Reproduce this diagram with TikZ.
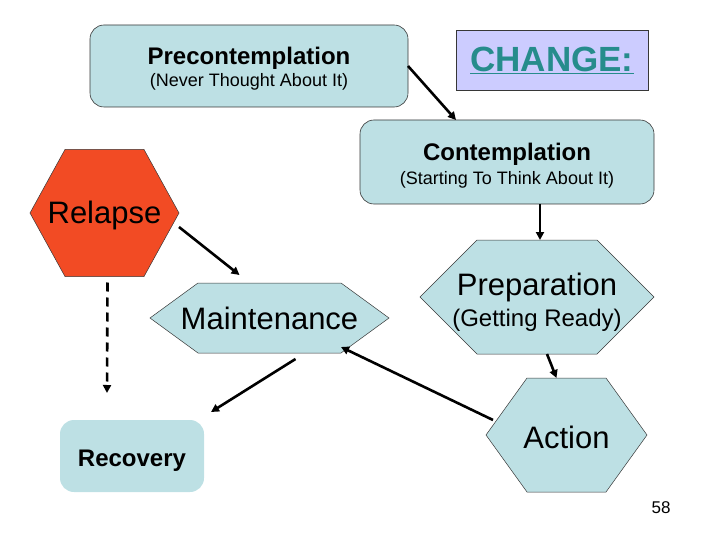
\documentclass[tikz,border=0pt]{standalone}
\usepackage{fontspec}
\setmainfont{Liberation Sans}
\usetikzlibrary{arrows.meta,backgrounds}

\definecolor{stagefill}{RGB}{189,224,228}
\definecolor{relapsefill}{RGB}{242,75,36}
\definecolor{changefill}{RGB}{204,204,255}
\definecolor{changetext}{RGB}{38,140,140}
\definecolor{edgegray}{RGB}{55,55,55}

% hexagon around a (rectangular) node, #2 = depth of the side points
\newcommand{\hexpath}[2]{(#1.west) -- ([xshift=#2]#1.north west) -- ([xshift=-#2]#1.north east) -- (#1.east) -- ([xshift=-#2]#1.south east) -- ([xshift=#2]#1.south west) -- cycle}
\newcommand{\setfs}[2]{\fontsize{#1}{#2}\selectfont}

\begin{document}
\begin{tikzpicture}[x=1pt,y=-1pt,>={Triangle[length=8pt,width=8pt]},
  stagebox/.style={rectangle,rounded corners=14pt,fill=stagefill,draw=edgegray,line width=0.6pt,align=center,inner sep=0,outer sep=0},
  hexbox/.style={rectangle,inner sep=0,outer sep=0,align=center},
  hexline/.style={fill=stagefill,draw=edgegray,line width=0.5pt},
  link/.style={->,line width=2.6pt,black}]
  \useasboundingbox (0,0) rectangle (720,540);

  % boxes
  \node[stagebox,minimum width=318,minimum height=82] (pre) at (249,66)
    {{\setfs{24}{24}\bfseries\rule{0pt}{23.5pt}Precontemplation}\\[3pt]{\setfs{18}{18}(Never Thought About It)}};
  \node[rectangle,fill=changefill,draw=edgegray,line width=0.6pt,minimum width=192,minimum height=60,inner sep=0,outer sep=0,text=changetext] (chg) at (552,60)
    {\setfs{35}{35}\bfseries\underline{CHANGE:}};
  \node[stagebox,minimum width=294,minimum height=84] (cont) at (507,162)
    {{\setfs{24}{24}\bfseries\rule{0pt}{25.5pt}Contemplation}\\[5pt]{\setfs{18}{18}(Starting To Think About It)}};
  \node[stagebox,draw=none,minimum width=144,minimum height=72] (rec) at (132,456)
    {\setfs{24}{24}\bfseries\rule{0pt}{25pt}Recovery};

  % hexagons
  \node[hexbox,minimum width=149,minimum height=127] (rel) at (104.5,213) {\setfs{31}{31}\rule{0pt}{27pt}Relapse};
  \node[hexbox,minimum width=239,minimum height=70] (mnt) at (269.5,318) {\setfs{31}{31}Maintenance};
  \node[hexbox,minimum width=234,minimum height=114] (prep) at (537,297)
    {{\setfs{31}{31}\rule{0pt}{33pt}Preparation}\\[6pt]{\setfs{24}{24}(Getting Ready)}};
  \node[hexbox,minimum width=161,minimum height=114] (act) at (566.5,435) {\setfs{31}{31}\rule{0pt}{27pt}Action};
  \begin{scope}[on background layer]
    \draw[hexline,fill=relapsefill] \hexpath{rel}{35};
    \draw[hexline] \hexpath{mnt}{48};
    \draw[hexline] \hexpath{prep}{57};
    \draw[hexline] \hexpath{act}{41};
  \end{scope}

  \node (pg) at (661,508) {\setfs{17}{17}58};

  % arrows
  \draw[link] (pre.east) -- ([xshift=96]cont.north west);
  \draw[link,line width=2pt] ([xshift=33]cont.south) -- ([xshift=3]prep.north);
  \draw[link] ([xshift=10]prep.south) -- ([xshift=-10]act.north);
  \draw[link] ([xshift=7,yshift=15]act.west) -- ([xshift=-48,yshift=6]mnt.south east);
  \draw[link] ([yshift=-14]rel.east) -- ([xshift=-30,yshift=8]mnt.north);
  \draw[link] ([xshift=26,yshift=-6]mnt.south) -- ([xshift=7,yshift=8]rec.north east);
  \draw[link,dash pattern=on 9pt off 6pt] ([xshift=3,yshift=-6]rel.south) -- ([xshift=-25,yshift=27]rec.north);
\end{tikzpicture}
\end{document}
